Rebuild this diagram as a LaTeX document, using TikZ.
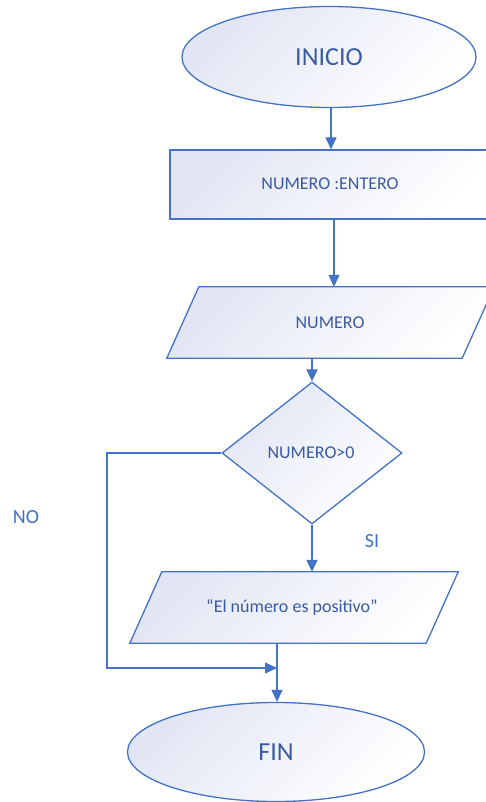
\documentclass[tikz,border=0pt]{standalone}
\usepackage{fontspec}
\setmainfont{Carlito}
\usetikzlibrary{shapes.geometric,arrows.meta}
\definecolor{edge}{HTML}{4472C4}
\definecolor{ink}{HTML}{3A5BA4}
\definecolor{tint}{HTML}{E2E6F4}
\tikzset{
  shapefill/.style={draw=edge, line width=1.3pt, top color=tint, bottom color=white, shading angle=45},
  term/.style={ellipse, shapefill, inner sep=0pt, text=ink, font=\fontsize{26}{30}\selectfont},
  procbox/.style={rectangle, shapefill, inner sep=0pt},
  iobox/.style={rectangle, draw=none, inner sep=0pt},
  decbox/.style={diamond, shapefill, inner sep=0pt},
  body/.style={text=ink, font=\fontsize{18}{21}\selectfont},
  flow/.style={draw=edge, line width=1.3pt},
  arr/.style={flow, -{Triangle[length=12pt,width=11pt]}},
  tag/.style={text=edge, font=\fontsize{20}{24}\selectfont}
}
\begin{document}
\begin{tikzpicture}[x=1pt,y=-1pt]
\useasboundingbox (0,0) rectangle (486,802);
\clip (0,0) rectangle (486,802);
\fill[white] (0,0) rectangle (486,802);

% start / end terminals
\node[term, minimum width=294pt, minimum height=101pt] (ini) at (329,57) {INICIO};
\node[term, minimum width=297pt, minimum height=99pt] (fin) at (276,752) {FIN};

% declaration box
\node[procbox, minimum width=325pt, minimum height=69pt] (decl) at (332.5,184.5) {};
\node[body] (decltxt) at (330,184) {NUMERO :ENTERO};

% input parallelogram
\node[iobox, minimum width=327pt, minimum height=71pt] (inp) at (330.5,322.5) {};
\path[shapefill] ([xshift=32pt]inp.north west) -- (inp.north east)
  -- ([xshift=-32pt]inp.south east) -- (inp.south west) -- cycle;
\node[body] (inptxt) at (330,323) {NUMERO};

% decision
\node[decbox, minimum width=180pt, minimum height=142pt] (dec) at (312,453) {};
\node[body] (dectxt) at (311,453) {NUMERO>0};

% output parallelogram
\node[iobox, minimum width=328pt, minimum height=71pt] (out) at (294,607.5) {};
\path[shapefill] ([xshift=32pt]out.north west) -- (out.north east)
  -- ([xshift=-32pt]out.south east) -- (out.south west) -- cycle;
\node[body] (outtxt) at (292,607) {“El número es positivo”};

% branch labels
\node[tag] (no) at (26,517) {NO};
\node[tag] (si) at (372,541) {SI};

% connectors
\coordinate (join) at (277,668);
\coordinate (nocorner) at (107,668);
\draw[arr] (ini.south -| 331,0) -- (decl.north -| 331,0);
\draw[arr] (decl.south -| 334,0) -- (inp.north -| 334,0);
\draw[arr] (dec.north |- inp.south) -- (dec.north);
\draw[arr] (dec.south) -- (dec.south |- out.north);
\draw[flow] (join |- out.south) -- (join);
\draw[arr] (dec.west) -| (nocorner) -- (join);
\draw[arr] (join) -- (fin.north -| join);
\end{tikzpicture}
\end{document}
